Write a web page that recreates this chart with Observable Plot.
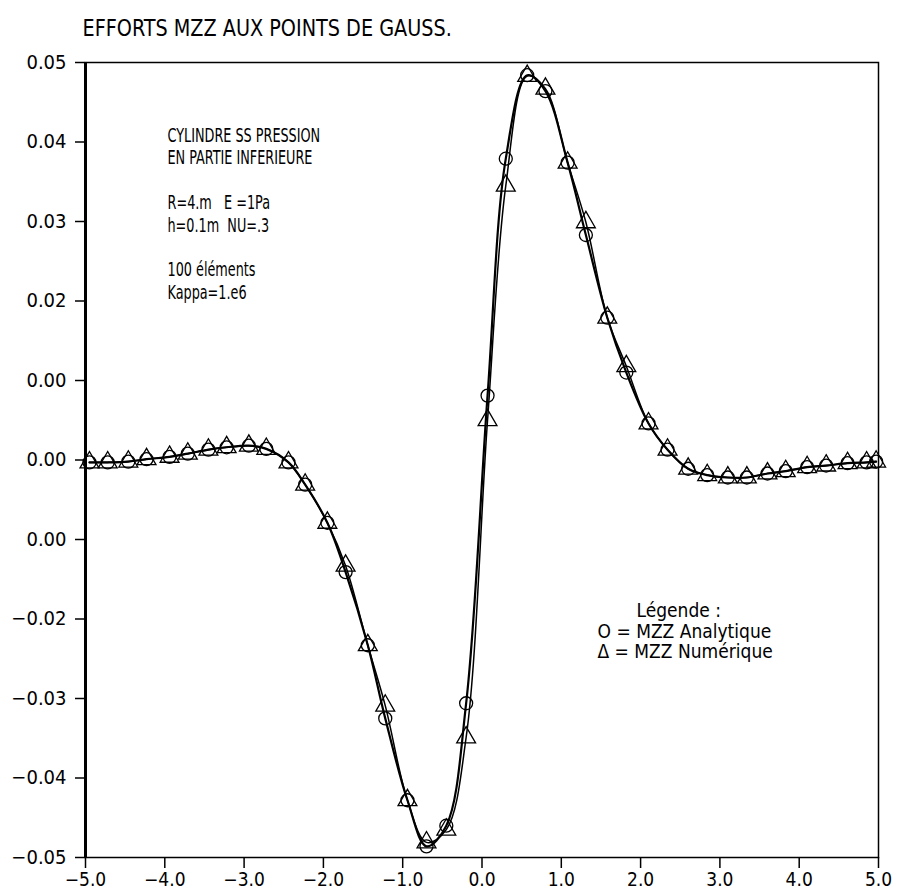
<!DOCTYPE html>
<html>
<head>
<meta charset="utf-8">
<script src="https://cdn.jsdelivr.net/npm/d3@7"></script>
<script src="https://cdn.jsdelivr.net/npm/@observablehq/plot@0.6"></script>
<style>
  html, body { margin: 0; padding: 0; background: #fff; }
  #chart svg { font-family: "DejaVu Sans Condensed", "Liberation Sans Narrow", "Liberation Sans", sans-serif; }
</style>
</head>
<body>
<div id="chart"></div>
<script>
// Abscissa of the Gauss points
const xGauss = [-4.95, -4.72, -4.46, -4.23, -3.94, -3.71, -3.45, -3.22, -2.94, -2.72,
  -2.44, -2.23, -1.95, -1.72, -1.44, -1.22, -0.94, -0.70, -0.45, -0.20,
  0.07, 0.30, 0.57, 0.80, 1.08, 1.31, 1.58, 1.82, 2.10, 2.34,
  2.60, 2.84, 3.10, 3.34, 3.60, 3.83, 4.10, 4.34, 4.61, 4.85, 4.97];
// MZZ analytique (circles)
const mzzAnalytique = [-0.0003, -0.0003, -0.0002, 0.0001, 0.0004, 0.0008, 0.0013, 0.0016, 0.0018, 0.0014,
  -0.0003, -0.0031, -0.0079, -0.0141, -0.0233, -0.0325, -0.0428, -0.0486, -0.0460, -0.0306,
  0.0081, 0.0379, 0.0484, 0.0464, 0.0374, 0.0283, 0.0179, 0.0110, 0.0046, 0.0013,
  -0.0011, -0.0019, -0.0022, -0.0022, -0.0017, -0.0014, -0.0009, -0.0007, -0.0004, -0.0003, -0.0002];
// MZZ numérique (triangles)
const mzzNumerique = [-0.0003, -0.0003, -0.0002, 0.0001, 0.0004, 0.0008, 0.0013, 0.0016, 0.0018, 0.0014,
  -0.0003, -0.0031, -0.0079, -0.0133, -0.0233, -0.0309, -0.0428, -0.0481, -0.0465, -0.0349,
  0.0050, 0.0345, 0.0483, 0.0467, 0.0374, 0.0299, 0.0179, 0.0118, 0.0046, 0.0013,
  -0.0011, -0.0019, -0.0022, -0.0022, -0.0017, -0.0014, -0.0009, -0.0007, -0.0004, -0.0003, -0.0002];

const xTickValues = [-5, -4, -3, -2, -1, 0, 1, 2, 3, 4, 5];
const xTickLabels = ["\u22125.0", "\u22124.0", "\u22123.0", "\u22122.0", "\u22121.0", "0.0", "1.0", "2.0", "3.0", "4.0", "5.0"];
const yTickValues = [0.05, 0.04, 0.03, 0.02, 0.01, 0.00, -0.01, -0.02, -0.03, -0.04, -0.05];
const yTickLabels = ["0.05", "0.04", "0.03", "0.02", "0.00", "0.00", "0.00", "\u22120.02", "\u22120.03", "\u22120.04", "\u22120.05"];

const title = "EFFORTS MZZ AUX POINTS DE GAUSS.";
const noteLines = "CYLINDRE SS PRESSION\nEN PARTIE INFERIEURE\n\nR=4.m   E =1Pa\nh=0.1m  NU=.3\n\n100 éléments\nKappa=1.e6";
const legendTitle = "Légende :";
const legendLines = ["O = MZZ Analytique", "\u0394 = MZZ Numérique"];

const analytique = xGauss.map((x, i) => ({x, y: mzzAnalytique[i]}));
const numerique = xGauss.map((x, i) => ({x, y: mzzNumerique[i]}));

const xLab = new Map(xTickValues.map((v, i) => [v, xTickLabels[i]]));
const yLab = new Map(yTickValues.map((v, i) => [Math.round(v * 100), yTickLabels[i]]));

const chart = Plot.plot({
  width: 901,
  height: 896,
  marginLeft: 85,
  marginRight: 23,
  marginTop: 62,
  marginBottom: 39,
  style: {fontSize: "19px", color: "#000", background: "#fff"},
  x: {domain: [-5, 5]},
  y: {domain: [-0.05, 0.05]},
  marks: [
    Plot.axisX({ticks: xTickValues, tickFormat: d => xLab.get(d), tickSize: 11, tickPadding: 4, label: null, fontSize: 19, stroke: "#000", strokeWidth: 1.5}),
    Plot.axisY({ticks: yTickValues, tickFormat: d => yLab.get(Math.round(d * 100)), tickSize: 10, tickPadding: 9, label: null, fontSize: 20, stroke: "#000", strokeWidth: 1.5}),
    Plot.frame({stroke: "#000", strokeWidth: 1.5}),
    Plot.ruleX([-5], {stroke: "#000", strokeWidth: 3}),
    Plot.line(analytique, {x: "x", y: "y", curve: "catmull-rom", stroke: "#000", strokeWidth: 2.2}),
    Plot.line(numerique, {x: "x", y: "y", curve: "catmull-rom", stroke: "#000", strokeWidth: 1.5}),
    Plot.dot(analytique, {x: "x", y: "y", symbol: "circle", r: 6.5, stroke: "#000", fill: "none", strokeWidth: 1.3}),
    Plot.dot(numerique, {x: "x", y: "y", symbol: "triangle", r: 7, stroke: "#000", fill: "none", strokeWidth: 1.3}),
    Plot.text([title], {frameAnchor: "top-left", dx: -3, dy: -43, textAnchor: "start", lineAnchor: "top", fontSize: 23, fill: "#000"}),
    Plot.text([noteLines], {frameAnchor: "top-left", dx: 82, dy: 63.5, textAnchor: "start", lineAnchor: "top", lineHeight: 1.18, fontSize: 19, fill: "#000"}),
    Plot.text([legendTitle], {frameAnchor: "top-left", dx: 551, dy: 541, textAnchor: "start", lineAnchor: "top", fontSize: 19, fill: "#000"}),
    Plot.text([legendLines.join("\n")], {frameAnchor: "top-left", dx: 512, dy: 561, textAnchor: "start", lineAnchor: "top", lineHeight: 1.05, fontSize: 19, fill: "#000"})
  ]
});

// Horizontally condense some texts to mimic the plotter font
function condense(startsWith, s) {
  d3.select(chart).selectAll("text")
    .filter(function() { return this.textContent.startsWith(startsWith); })
    .each(function() {
      const t = this.getAttribute("transform");
      if (t) {
        this.setAttribute("transform", t + ` scale(${s},1)`);
      } else {
        const x = +(this.getAttribute("x") || 0), y = +(this.getAttribute("y") || 0);
        this.removeAttribute("x"); this.removeAttribute("y");
        this.setAttribute("transform", `translate(${x},${y}) scale(${s},1)`);
      }
    });
}
condense("EFFORTS", 0.93);
condense("CYLINDRE", 0.75);

document.getElementById("chart").appendChild(chart);
</script>
</body>
</html>
